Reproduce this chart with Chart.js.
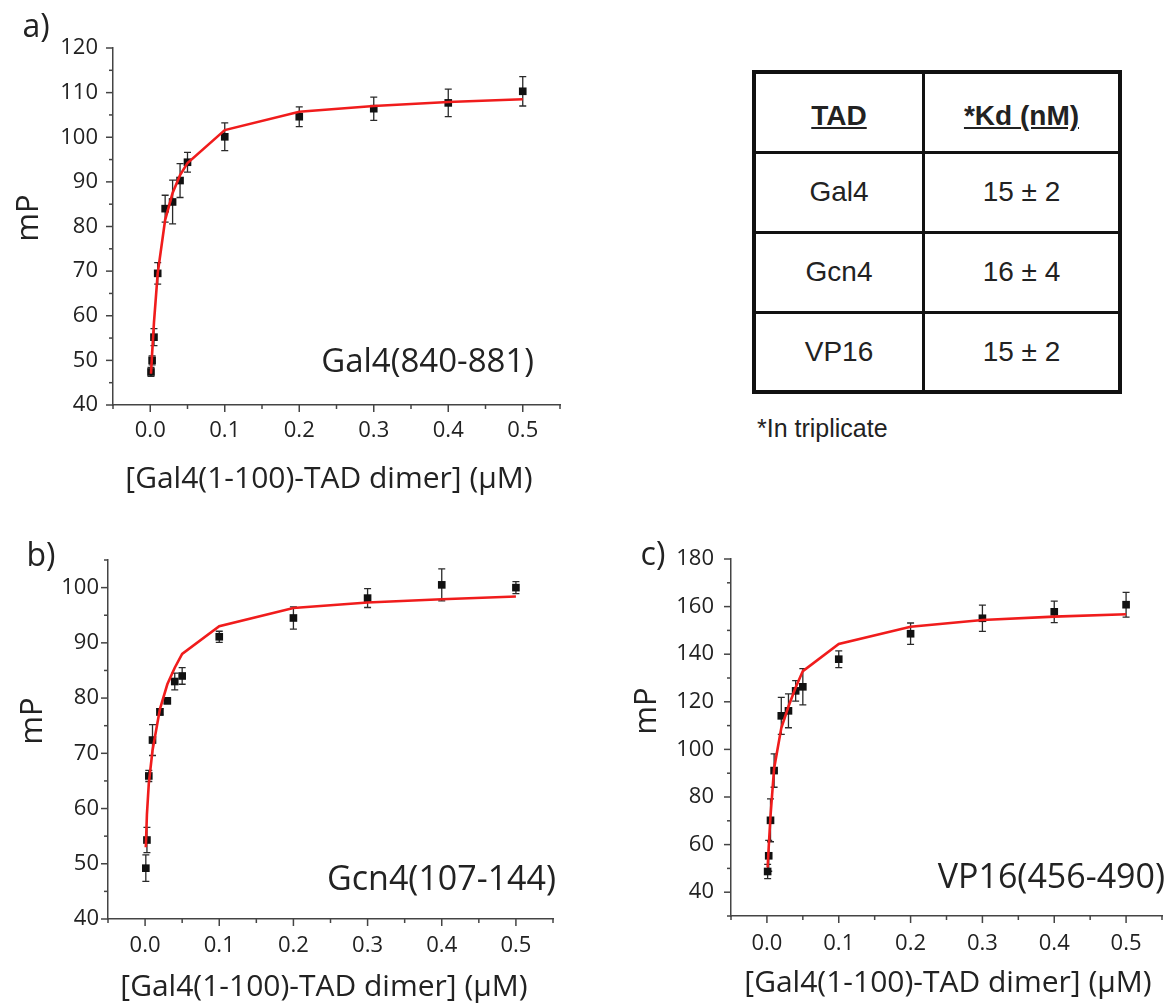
<!DOCTYPE html>
<html>
<head>
<meta charset="utf-8">
<title>Gal4(1-100)-TAD dimer binding</title>
<script src="https://cdn.jsdelivr.net/npm/chart.js@4.4.1/dist/chart.umd.min.js"></script>
<style>
  html, body { margin: 0; padding: 0; background: #fff; }
  #fig { position: relative; width: 1176px; height: 1004px; overflow: hidden; font-family: "Open Sans", sans-serif; color: #222; }
  #fig canvas { position: absolute; }
  .lbl { position: absolute; line-height: 1; white-space: nowrap; }
  .tag { font-size: 32px; transform: translate(-50%, -50%); }
  .xtitle { font-size: 30px; transform: translate(-50%, -50%); }
  .ytitle { font-size: 31px; transform: translate(-50%, -50%) rotate(-90deg); }
  .construct { transform: translateY(-50%); }
  #kdTable { position: absolute; left: 752px; top: 70px; width: 370px; border-collapse: collapse;
             border: 4px solid #111; font-family: "Liberation Sans", Arial, sans-serif; font-size: 28px; color: #222; }
  #kdTable tr { height: 80px; }
  #kdTable th, #kdTable td { border: 3.5px solid #111; text-align: center; padding: 0; }
  #kdTable th { font-weight: bold; text-decoration: underline; padding-top: 8px; }
  #kdTable th:first-child, #kdTable td:first-child { width: 166px; }
  #note { position: absolute; left: 757px; top: 414px; font-family: "Liberation Sans", Arial, sans-serif; font-size: 25px; color: #222; }
</style>
</head>
<body>
<div id="fig">
  <canvas id="chartA" width="580" height="500" style="left:0;top:0"></canvas>
  <canvas id="chartB" width="580" height="484" style="left:0;top:520px"></canvas>
  <canvas id="chartC" width="576" height="484" style="left:600px;top:520px"></canvas>

  <div class="lbl tag" style="left:36px;top:25px">a)</div>
  <div class="lbl tag" style="left:41px;top:554px">b)</div>
  <div class="lbl tag" style="left:653px;top:553px">c)</div>

  <div class="lbl ytitle" style="left:26px;top:218px">mP</div>
  <div class="lbl ytitle" style="left:30px;top:721px">mP</div>
  <div class="lbl ytitle" style="left:644px;top:711px">mP</div>

  <div class="lbl xtitle" style="left:329px;top:477px">[Gal4(1-100)-TAD dimer] (µM)</div>
  <div class="lbl xtitle" style="left:324px;top:985px">[Gal4(1-100)-TAD dimer] (µM)</div>
  <div class="lbl xtitle" style="left:948px;top:981px">[Gal4(1-100)-TAD dimer] (µM)</div>

  <div class="lbl construct" style="right:642px;top:359px;font-size:33px">Gal4(840-881)</div>
  <div class="lbl construct" style="right:620px;top:877px;font-size:34px">Gcn4(107-144)</div>
  <div class="lbl construct" style="right:11px;top:875px;font-size:34px">VP16(456-490)</div>

  <table id="kdTable"></table>
  <div id="note">*In triplicate</div>
</div>

<script>
// concentrations of Gal4(1-100)-TAD dimer, uM
const conc = [0.001, 0.0025, 0.005, 0.01, 0.02, 0.03, 0.04, 0.05, 0.1, 0.2, 0.3, 0.4, 0.5];

// a) Gal4(840-881)
const gal4MP  = [47.4, 50.0, 55.2, 69.5, 84.0, 85.5, 90.3, 94.4, 100.1, 104.6, 106.4, 107.7, 110.3];
const gal4Err = [1.0, 1.0, 1.9, 2.4, 3.0, 4.9, 3.8, 2.2, 3.1, 2.2, 2.6, 3.1, 3.3];
const gal4Fit = [47.0, 51.5, 58.5, 69.5, 81.5, 87.5, 91.5, 94.2, 101.6, 105.7, 107.0, 107.9, 108.5];

// b) Gcn4(107-144)
const gcn4MP  = [49.2, 54.3, 65.9, 72.4, 77.5, 79.5, 83.0, 84.0, 91.1, 94.5, 98.1, 100.5, 100.0];
const gcn4Err = [2.4, 2.3, 1.0, 2.8, 0.6, 0.5, 1.5, 1.5, 1.0, 2.0, 1.7, 2.9, 1.1];
const gcn4Fit = [53.0, 59.0, 64.5, 70.5, 78.0, 82.5, 85.5, 88.0, 93.0, 96.3, 97.3, 97.9, 98.4];

// c) VP16(456-490)
const vp16MP  = [48.7, 55.3, 70.2, 91.1, 114.1, 116.2, 124.6, 126.3, 137.9, 148.6, 155.1, 157.8, 160.8];
const vp16Err = [3.0, 6.5, 9.0, 7.0, 7.8, 7.1, 4.3, 7.6, 3.5, 4.5, 5.5, 4.5, 5.2];
const vp16Fit = [50.4, 59.0, 72.0, 92.0, 109.0, 118.0, 126.0, 132.9, 144.3, 151.5, 154.4, 155.8, 156.8];

// tick labels
const xTickLabels = ['0.0', '0.1', '0.2', '0.3', '0.4', '0.5'];
const gal4YTicks = [40, 50, 60, 70, 80, 90, 100, 110, 120];
const gcn4YTicks = [40, 50, 60, 70, 80, 90, 100];
const vp16YTicks = [40, 60, 80, 100, 120, 140, 160, 180];

// table
const tadNames = ['Gal4', 'Gcn4', 'VP16'];
const kdValues = ['15 ± 2', '16 ± 4', '15 ± 2'];

const AXIS = '#444';
const TEXT = '#222';
const FIT_RED = '#f01c1c';

// long ticks where there is a label, short ones between
const tickMarks = {
  id: 'tickMarks',
  afterDraw(chart) {
    const ctx = chart.ctx;
    ctx.save();
    ctx.strokeStyle = AXIS;
    ctx.lineWidth = 1.5;
    ['x', 'y'].forEach(id => {
      const s = chart.scales[id];
      s.ticks.forEach((t, i) => {
        const len = t.label !== '' ? 7 : 4;
        const p = s.getPixelForTick(i);
        ctx.beginPath();
        if (id === 'x') { ctx.moveTo(p, s.top); ctx.lineTo(p, s.top + len); }
        else { ctx.moveTo(s.right, p); ctx.lineTo(s.right - len, p); }
        ctx.stroke();
      });
    });
    ctx.restore();
  }
};

// vertical error bars with caps, under the points
const errorBars = {
  id: 'errorBars',
  beforeDatasetsDraw(chart) {
    const ds = chart.data.datasets[0];
    const meta = chart.getDatasetMeta(0);
    const y = chart.scales.y;
    const ctx = chart.ctx;
    ctx.save();
    ctx.strokeStyle = '#2a2a2a';
    ctx.lineWidth = 1.3;
    meta.data.forEach((pt, i) => {
      const v = ds.data[i].y, e = ds.errors[i];
      const top = y.getPixelForValue(v + e);
      const bot = y.getPixelForValue(v - e);
      ctx.beginPath();
      ctx.moveTo(pt.x, top); ctx.lineTo(pt.x, bot);
      ctx.moveTo(pt.x - 3.5, top); ctx.lineTo(pt.x + 3.5, top);
      ctx.moveTo(pt.x - 3.5, bot); ctx.lineTo(pt.x + 3.5, bot);
      ctx.stroke();
    });
    ctx.restore();
  }
};

function makePanel(id, p) {
  const pts = conc.map((x, i) => ({ x: x, y: p.mp[i] }));
  const fit = conc.map((x, i) => ({ x: x, y: p.fit[i] }));

  return new Chart(document.getElementById(id), {
    type: 'scatter',
    data: {
      datasets: [
        {
          data: pts,
          errors: p.err,
          pointStyle: 'rect',
          pointRadius: 5.4,
          backgroundColor: '#111',
          borderWidth: 0,
          order: 2
        },
        {
          data: fit,
          showLine: true,
          borderColor: FIT_RED,
          borderWidth: 2.6,
          pointRadius: 0,
          tension: 0,
          order: 1
        }
      ]
    },
    options: {
      responsive: false,
      animation: false,
      events: [],
      layout: { padding: p.pad },
      plugins: { legend: { display: false }, tooltip: { enabled: false } },
      scales: {
        x: {
          type: 'linear',
          min: -0.05, max: 0.55,
          grid: { display: false, drawTicks: true, tickLength: 7 },
          border: { color: AXIS, width: 1.5 },
          ticks: {
            stepSize: 0.05, autoSkip: false, maxRotation: 0,
            padding: p.xTickPad,
            color: TEXT,
            font: { family: 'Open Sans', size: 22 },
            callback: v => xTickLabels.find(t => Math.abs(Number(t) - v) < 1e-6) || ''
          },
          afterFit: s => { s.height = p.xHeight; }
        },
        y: {
          min: p.yMin, max: p.yMax,
          grid: { display: false, drawTicks: true, tickLength: 7 },
          border: { color: AXIS, width: 1.5 },
          ticks: {
            stepSize: p.yStep, autoSkip: false,
            padding: p.yTickPad,
            color: TEXT,
            font: { family: 'Open Sans', size: 22 },
            callback: v => p.yTicks.includes(Math.round(v * 1000) / 1000) ? String(Math.round(v)) : ''
          },
          afterFit: s => { s.width = p.yWidth; }
        }
      }
    },
    plugins: [errorBars, tickMarks]
  });
}

function buildTable() {
  const t = document.getElementById('kdTable');
  let html = '<tr><th>TAD</th><th>*Kd (nM)</th></tr>';
  tadNames.forEach((n, i) => { html += `<tr><td>${n}</td><td>${kdValues[i]}</td></tr>`; });
  t.innerHTML = html;
}

buildTable();

makePanel('chartA', {
  mp: gal4MP, err: gal4Err, fit: gal4Fit, yTicks: gal4YTicks,
  yMin: 40, yMax: 120, yStep: 5,
  pad: { top: 48, right: 20, left: 0, bottom: 0 },
  yWidth: 113, xHeight: 95,
  xTickPad: 6, yTickPad: 8
});

makePanel('chartB', {
  mp: gcn4MP, err: gcn4Err, fit: gcn4Fit, yTicks: gcn4YTicks,
  yMin: 40, yMax: 105, yStep: 5,
  pad: { top: 40, right: 27, left: 0, bottom: 0 },
  yWidth: 108, xHeight: 85,
  xTickPad: 7, yTickPad: 2
});

makePanel('chartC', {
  mp: vp16MP, err: vp16Err, fit: vp16Fit, yTicks: vp16YTicks,
  yMin: 30, yMax: 180, yStep: 10,
  pad: { top: 39, right: 14, left: 0, bottom: 0 },
  yWidth: 131, xHeight: 88,
  xTickPad: 8, yTickPad: 10
});
</script>
</body>
</html>
